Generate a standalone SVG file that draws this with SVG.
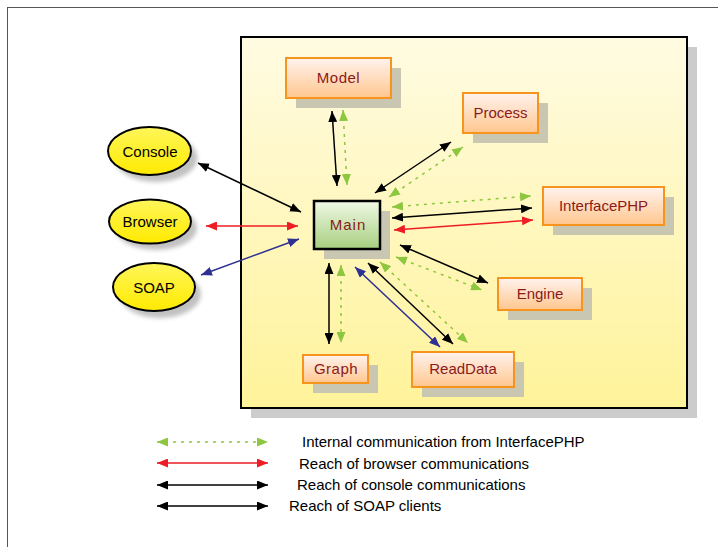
<svg xmlns="http://www.w3.org/2000/svg" width="718" height="547" viewBox="0 0 718 547">
  <defs>
    <linearGradient id="gPanel" x1="0" y1="0" x2="0" y2="1">
      <stop offset="0" stop-color="#fffbe2"/>
      <stop offset="1" stop-color="#fff39a"/>
    </linearGradient>
    <linearGradient id="gNode" x1="0" y1="0" x2="0" y2="1">
      <stop offset="0" stop-color="#fff3ee"/>
      <stop offset="1" stop-color="#ffc68e"/>
    </linearGradient>
    <linearGradient id="gMain" x1="0" y1="0" x2="0" y2="1">
      <stop offset="0" stop-color="#f0f8e6"/>
      <stop offset="1" stop-color="#a6cf7e"/>
    </linearGradient>
    <linearGradient id="gClient" x1="0" y1="0" x2="0" y2="1">
      <stop offset="0" stop-color="#fff65a"/>
      <stop offset="1" stop-color="#ffea00"/>
    </linearGradient>
    <filter id="soft" x="-20%" y="-20%" width="140%" height="140%">
      <feGaussianBlur stdDeviation="2"/>
    </filter>
    <marker id="aBlack" markerUnits="userSpaceOnUse" markerWidth="11" markerHeight="9" refX="11" refY="4.5" orient="auto-start-reverse">
      <path d="M0,0 L11,4.5 L0,9 z" fill="#000"/>
    </marker>
    <marker id="aRed" markerUnits="userSpaceOnUse" markerWidth="11" markerHeight="9" refX="11" refY="4.5" orient="auto-start-reverse">
      <path d="M0,0 L11,4.5 L0,9 z" fill="#ee1c24"/>
    </marker>
    <marker id="aBlue" markerUnits="userSpaceOnUse" markerWidth="11" markerHeight="9" refX="11" refY="4.5" orient="auto-start-reverse">
      <path d="M0,0 L11,4.5 L0,9 z" fill="#2e3192"/>
    </marker>
    <marker id="aGreen" markerUnits="userSpaceOnUse" markerWidth="11" markerHeight="9" refX="11" refY="4.5" orient="auto-start-reverse">
      <path d="M0,0 L11,4.5 L0,9 z" fill="#8dc63f"/>
    </marker>
  </defs>
  <style>
    .frame { fill: none; stroke: #555; stroke-width: 1; }
    .shadow { fill: #c9c6b2; }
    .node { fill: url(#gNode); stroke: #f7941d; stroke-width: 2; }
    .main { fill: url(#gMain); stroke: #000; stroke-width: 2.5; }
    .client { fill: url(#gClient); stroke: #000; stroke-width: 2; }
    .label { font-family: "Liberation Sans", Arial, sans-serif; font-size: 15px; fill: #8b1a1a; text-anchor: middle; dominant-baseline: central; }
    .clabel { font-family: "Liberation Sans", Arial, sans-serif; font-size: 15px; fill: #000; text-anchor: middle; dominant-baseline: central; }
    .legend { font-family: "Liberation Sans", Arial, sans-serif; font-size: 15px; fill: #000; dominant-baseline: central; }
    .k { stroke: #000; stroke-width: 1.5; fill: none; marker-start: url(#aBlack); marker-end: url(#aBlack); }
    .r { stroke: #ee1c24; stroke-width: 1.5; fill: none; marker-start: url(#aRed); marker-end: url(#aRed); }
    .b { stroke: #2e3192; stroke-width: 1.5; fill: none; marker-start: url(#aBlue); marker-end: url(#aBlue); }
    .g { stroke: #8dc63f; stroke-width: 1.5; stroke-dasharray: 3 5; fill: none; marker-start: url(#aGreen); marker-end: url(#aGreen); }
  </style>

  <!-- page frame -->
  <rect class="frame" x="7.5" y="7.5" width="800" height="600"/>

  <!-- server panel -->
  <g id="panel">
    <rect x="251" y="47" width="446" height="371" fill="#cccccc"/>
    <rect x="241" y="37" width="446" height="371" fill="url(#gPanel)" stroke="#000" stroke-width="2"/>
  </g>

  <!-- clients -->
  <g id="console">
    <ellipse cx="156" cy="158" rx="41.5" ry="24" fill="#999" opacity="0.6" filter="url(#soft)"/>
    <ellipse class="client" cx="149.5" cy="151" rx="41.5" ry="24"/>
    <text class="clabel" x="150" y="151">Console</text>
  </g>
  <g id="browser">
    <ellipse cx="156" cy="228" rx="41" ry="22" fill="#999" opacity="0.6" filter="url(#soft)"/>
    <ellipse class="client" cx="150" cy="221.5" rx="41" ry="22"/>
    <text class="clabel" x="150" y="221">Browser</text>
  </g>
  <g id="soap">
    <ellipse cx="160" cy="294" rx="41" ry="24" fill="#999" opacity="0.6" filter="url(#soft)"/>
    <ellipse class="client" cx="154" cy="287" rx="41" ry="24"/>
    <text class="clabel" x="154" y="287">SOAP</text>
  </g>

  <!-- server components -->
  <g id="model">
    <rect class="shadow" x="296" y="68" width="105" height="40"/>
    <rect class="node" x="286" y="58" width="105" height="40"/>
    <text class="label" x="338.5" y="77" letter-spacing="0.5">Model</text>
  </g>
  <g id="process">
    <rect class="shadow" x="473" y="103" width="75" height="40"/>
    <rect class="node" x="463" y="93" width="75" height="40"/>
    <text class="label" x="500.5" y="112">Process</text>
  </g>
  <g id="interfacephp">
    <rect class="shadow" x="553" y="197" width="121" height="38"/>
    <rect class="node" x="543" y="187" width="121" height="38"/>
    <text class="label" x="603.5" y="205">InterfacePHP</text>
  </g>
  <g id="engine">
    <rect class="shadow" x="508" y="288" width="84" height="32"/>
    <rect class="node" x="498" y="278" width="84" height="32"/>
    <text class="label" x="540" y="293">Engine</text>
  </g>
  <g id="readdata">
    <rect class="shadow" x="422" y="362" width="102" height="35"/>
    <rect class="node" x="412" y="352" width="102" height="35"/>
    <text class="label" x="463" y="368">ReadData</text>
  </g>
  <g id="graph">
    <rect class="shadow" x="313" y="365" width="65" height="28"/>
    <rect class="node" x="303" y="355" width="65" height="28"/>
    <text class="label" x="336" y="368" letter-spacing="0.5">Graph</text>
  </g>
  <g id="main">
    <rect class="shadow" x="324" y="211" width="66" height="48"/>
    <rect class="main" x="314" y="201" width="66" height="48"/>
    <text class="label" x="348" y="224" letter-spacing="1">Main</text>
  </g>

  <!-- connectors -->
  <g id="connectors">
    <line class="k" x1="198" y1="163" x2="301" y2="212"/>
    <line class="r" x1="206" y1="226" x2="298" y2="226"/>
    <line class="b" x1="201" y1="275" x2="299" y2="239"/>

    <line class="k" x1="332" y1="111" x2="337" y2="186"/>
    <line class="g" x1="343" y1="110" x2="347" y2="185"/>

    <line class="k" x1="375" y1="193" x2="451" y2="142"/>
    <line class="g" x1="389" y1="197" x2="463" y2="147"/>

    <line class="g" x1="392" y1="207" x2="531" y2="196"/>
    <line class="k" x1="392" y1="218" x2="532" y2="208"/>
    <line class="r" x1="394" y1="230" x2="533" y2="220"/>

    <line class="k" x1="400" y1="245" x2="488" y2="283"/>
    <line class="g" x1="396" y1="257" x2="482" y2="290"/>

    <line class="b" x1="355" y1="267" x2="440" y2="347"/>
    <line class="k" x1="368" y1="263" x2="453" y2="344"/>
    <line class="g" x1="380" y1="262" x2="468" y2="343"/>

    <line class="k" x1="329" y1="263" x2="329" y2="344"/>
    <line class="g" x1="341" y1="265" x2="341" y2="343"/>
  </g>

  <!-- legend -->
  <g id="legend">
    <line class="g" x1="157" y1="442" x2="268" y2="442"/>
    <line class="r" x1="157" y1="463" x2="268" y2="463"/>
    <line class="k" x1="157" y1="485" x2="268" y2="485"/>
    <line class="k" x1="157" y1="506" x2="268" y2="506"/>
    <text class="legend" x="302" y="441">Internal communication from InterfacePHP</text>
    <text class="legend" x="299" y="463">Reach of browser communications</text>
    <text class="legend" x="297" y="484">Reach of console communications</text>
    <text class="legend" x="289" y="505">Reach of SOAP clients</text>
  </g>
</svg>
